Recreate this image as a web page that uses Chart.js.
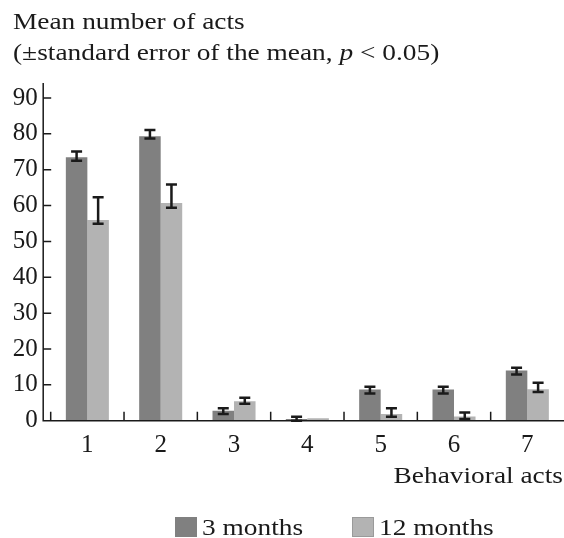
<!DOCTYPE html>
<html>
<head>
<meta charset="utf-8">
<script src="https://cdn.jsdelivr.net/npm/chart.js@4.4.0/dist/chart.umd.min.js"></script>
<style>
  html, body { margin: 0; padding: 0; background: #fff; }
  #wrap { width: 564px; height: 538px; }
</style>
</head>
<body>
<div id="wrap"><canvas id="actsChart" width="564" height="538"></canvas></div>
<script>
// behavioral act categories
const acts = ['1', '2', '3', '4', '5', '6', '7'];

// mean number of acts
const months3 = [73.5, 79.3, 2.8, 0.5, 8.7, 8.7, 14.0];
const months12 = [56.0, 60.7, 5.4, 0.7, 1.9, 1.2, 8.8];

// error bar ends (low, high), null = no bar drawn
const months3Low = [72.5, 78.7, 1.9, 0.0, 7.6, 7.6, 12.9];
const months3High = [75.1, 81.1, 3.5, 1.1, 9.5, 9.5, 14.8];
const months12Low = [54.9, 59.4, 4.7, null, 1.1, 0.5, 8.0];
const months12High = [62.3, 65.9, 6.4, null, 3.5, 2.3, 10.6];

const yTicks = [0, 10, 20, 30, 40, 50, 60, 70, 80, 90];

const SERIF = '"Liberation Serif", "Times New Roman", serif';
const INK = '#1a1a1a';
const STRETCH = 1.14; // the type in the picture is a bit wider than Liberation Serif

// draws text a little wider, starting at x (or ending at x when right aligned)
function wideText(ctx, str, x, y, alignRight) {
    const w = ctx.measureText(str).width * STRETCH;
    const left = alignRight ? x - w : x;
    ctx.save();
    ctx.translate(left, y);
    ctx.scale(STRETCH, 1);
    ctx.textAlign = 'left';
    ctx.fillText(str, 0, 0);
    ctx.restore();
    return w;
}

// error bars, axes and the text round the plot
const decor = {
    id: 'decor',
    afterDatasetsDraw(chart) {
        const ctx = chart.ctx;
        const y = chart.scales.y;
        ctx.save();
        ctx.strokeStyle = INK;
        ctx.lineWidth = 2.5;
        const lows = [months3Low, months12Low];
        const highs = [months3High, months12High];
        for (let d = 0; d < 2; d++) {
            const meta = chart.getDatasetMeta(d);
            meta.data.forEach((bar, i) => {
                if (lows[d][i] == null) return;
                const y1 = y.getPixelForValue(lows[d][i]);
                const y2 = y.getPixelForValue(highs[d][i]);
                const cx = bar.x, hw = 5.5;
                ctx.beginPath();
                ctx.moveTo(cx, y1); ctx.lineTo(cx, y2);
                ctx.moveTo(cx - hw, y1); ctx.lineTo(cx + hw, y1);
                ctx.moveTo(cx - hw, y2); ctx.lineTo(cx + hw, y2);
                ctx.stroke();
            });
        }
        ctx.restore();
    },
    afterDraw(chart) {
        const ctx = chart.ctx;
        const x = chart.scales.x;
        const y = chart.scales.y;
        const area = chart.chartArea;
        const axisX = area.left - 7.5;
        const y0 = y.getPixelForValue(0);
        const step = x.getPixelForValue(1) - x.getPixelForValue(0);

        ctx.save();
        ctx.strokeStyle = INK;
        ctx.lineWidth = 1.5;
        ctx.beginPath();
        ctx.moveTo(axisX, area.top - 15);
        ctx.lineTo(axisX, y0);
        ctx.lineTo(chart.width, y0);
        // y ticks, pointing inward
        yTicks.forEach(v => {
            const py = y.getPixelForValue(v);
            ctx.moveTo(axisX, py);
            ctx.lineTo(axisX + 8, py);
        });
        // category boundaries
        for (let i = 0; i < acts.length; i++) {
            const px = x.getPixelForValue(i) - step / 2;
            ctx.moveTo(px, y0);
            ctx.lineTo(px, y0 - 9);
        }
        ctx.stroke();

        // y axis caption
        ctx.fillStyle = INK;
        ctx.textBaseline = 'alphabetic';
        ctx.font = '24px ' + SERIF;
        wideText(ctx, 'Mean number of acts', 13, 29);
        let tx = 13;
        const parts = [
            ['(±standard error of the mean, ', ''],
            ['p', 'italic '],
            [' < 0.05)', '']
        ];
        parts.forEach(([s, st]) => {
            ctx.font = st + '24px ' + SERIF;
            tx += wideText(ctx, s, tx, 60);
        });

        // x axis caption
        ctx.font = '24px ' + SERIF;
        wideText(ctx, 'Behavioral acts', 563, 483, true);

        // legend
        const items = [
            ['3 months', '#808080', '#808080', 175],
            ['12 months', '#b3b3b3', '#9a9a9a', 352]
        ];
        items.forEach(([label, fill, edge, lx]) => {
            ctx.fillStyle = fill;
            ctx.fillRect(lx, 517, 22, 20);
            ctx.strokeStyle = edge;
            ctx.lineWidth = 1;
            ctx.strokeRect(lx + 0.5, 517.5, 21, 19);
            ctx.fillStyle = INK;
            wideText(ctx, label, lx + 27, 535);
        });
        ctx.restore();
    }
};

const ctxActs = document.getElementById('actsChart').getContext('2d');
const actsChart = new Chart(ctxActs, {
    type: 'bar',
    data: {
        labels: acts,
        datasets: [
            {
                label: '3 months',
                data: months3,
                backgroundColor: '#808080',
                borderWidth: 0
            },
            {
                label: '12 months',
                data: months12,
                backgroundColor: '#b3b3b3',
                borderWidth: 0
            }
        ]
    },
    options: {
        responsive: false,
        animation: false,
        events: [],
        layout: { padding: { top: 98, right: 0, bottom: 0, left: 0 } },
        plugins: {
            legend: { display: false },
            title: { display: false },
            tooltip: { enabled: false }
        },
        datasets: {
            bar: { categoryPercentage: 0.587, barPercentage: 1.0 }
        },
        scales: {
            x: {
                offset: true,
                grid: { display: false, drawTicks: false },
                border: { display: false },
                ticks: {
                    color: INK,
                    padding: 10,
                    maxRotation: 0,
                    font: { family: SERIF, size: 25 }
                },
                afterFit: s => { s.height = 117.3; }
            },
            y: {
                min: 0,
                max: 90,
                grid: { display: false, drawTicks: false },
                border: { display: false },
                afterBuildTicks: s => { s.ticks = yTicks.map(v => ({ value: v })); },
                ticks: {
                    color: INK,
                    padding: 13,
                    font: { family: SERIF, size: 25 }
                },
                afterFit: s => { s.width = 50.7; }
            }
        }
    },
    plugins: [decor]
});
</script>
</body>
</html>
